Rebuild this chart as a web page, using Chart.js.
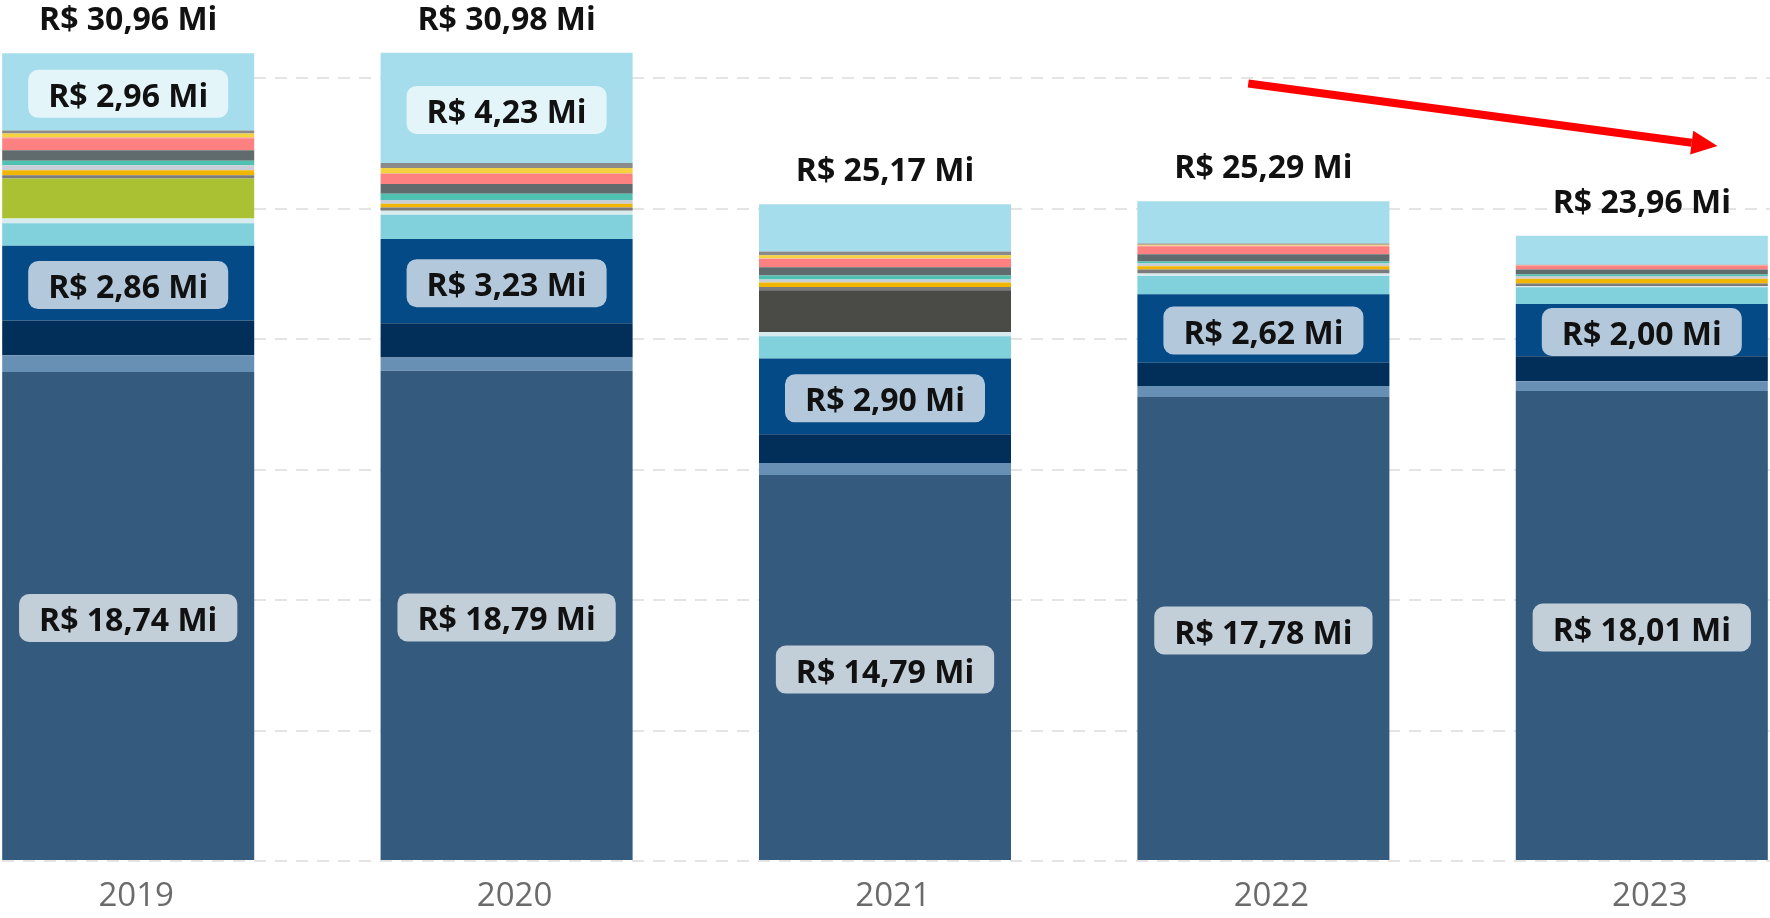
<!DOCTYPE html>
<html>
<head>
<meta charset="utf-8">
<script src="https://cdn.jsdelivr.net/npm/chart.js@4/dist/chart.umd.min.js"></script>
<style>
  html, body { margin:0; padding:0; background:#fff; overflow:hidden; }
  #wrap { position:absolute; left:-61px; top:0; width:1892px; height:918px; }
</style>
</head>
<body>
<div id="wrap"><canvas id="grafico"></canvas></div>
<script>
// Dados (R$ milhões), séries de baixo para cima
const anos = ['2019', '2020', '2021', '2022', '2023'];
const totais = [30.96, 30.98, 25.17, 25.29, 23.96];

const principal   = [18.74, 18.79, 14.79, 17.78, 18.01];
const azulAco     = [0.64, 0.51, 0.46, 0.43, 0.38];
const marinho     = [1.34, 1.31, 1.11, 0.89, 0.96];
const azulEscuro  = [2.86, 3.23, 2.90, 2.62, 2.00];
const ciano       = [0.86, 0.93, 0.85, 0.70, 0.64];
const palido      = [0.19, 0.15, 0.17, 0.10, 0.04];
const verde       = [1.53, 0, 0, 0, 0];
const grafite     = [0, 0, 1.60, 0, 0];
const cinza1      = [0.12, 0.13, 0.12, 0.15, 0.10];
const laranja     = [0.19, 0.14, 0.17, 0.13, 0.19];
const cinzaClaro  = [0.20, 0.14, 0.12, 0.10, 0.10];
const turquesa    = [0.17, 0.24, 0.15, 0.08, 0.06];
const cinzaEscuro = [0.40, 0.38, 0.32, 0.28, 0.19];
const salmao      = [0.46, 0.38, 0.32, 0.30, 0.15];
const pessego     = [0.05, 0.04, 0.02, 0.03, 0];
const amarelo     = [0.13, 0.19, 0.12, 0.03, 0.01];
const cinza2      = [0.12, 0.19, 0.14, 0.05, 0.02];
const azulClaro   = [2.96, 4.23, 1.81, 1.62, 1.11];

// seta de tendência (em coordenadas de dados: índice da categoria, valor)
const setaInicio = [2.96, 29.8];
const setaFim = [4.2, 27.4];

const FONTE = "'Segoe UI', 'Open Sans', sans-serif";
const fmt = v => 'R$ ' + v.toFixed(2).replace('.', ',') + ' Mi';

const series = [
  { data: principal, backgroundColor: '#345b7d', rotulo: true },
  { data: azulAco, backgroundColor: '#6890b5' },
  { data: marinho, backgroundColor: '#012f59' },
  { data: azulEscuro, backgroundColor: '#034a87', rotulo: true },
  { data: ciano, backgroundColor: '#80d1dc' },
  { data: palido, backgroundColor: '#d8ecef' },
  { data: verde, backgroundColor: '#abc134' },
  { data: grafite, backgroundColor: '#4a4b47' },
  { data: cinza1, backgroundColor: '#7b7b7b' },
  { data: laranja, backgroundColor: '#f2b600' },
  { data: cinzaClaro, backgroundColor: '#c9cdd6' },
  { data: turquesa, backgroundColor: '#4fc1b1' },
  { data: cinzaEscuro, backgroundColor: '#5f6b6d' },
  { data: salmao, backgroundColor: '#fd8181' },
  { data: pessego, backgroundColor: '#f6b98f' },
  { data: amarelo, backgroundColor: '#f5d240' },
  { data: cinza2, backgroundColor: '#8a8a8a' },
  { data: azulClaro, backgroundColor: '#a6dded', rotulo: true }
];

const rotulos = {
  id: 'rotulos',
  afterDatasetsDraw(chart) {
    const ctx = chart.ctx, sx = chart.scales.x, sy = chart.scales.y;
    ctx.save();
    ctx.font = 'bold 32px ' + FONTE;
    ctx.textAlign = 'center';
    ctx.textBaseline = 'middle';

    // rótulos internos com caixa
    chart.data.datasets.forEach((ds, di) => {
      if (!ds.rotulo) return;
      chart.getDatasetMeta(di).data.forEach((bar, i) => {
        if (bar.base - bar.y < 50) return;
        const txt = fmt(ds.data[i]);
        const w = ctx.measureText(txt).width + 40;
        const cy = (bar.y + bar.base) / 2 + 2;
        ctx.fillStyle = 'rgba(255,255,255,0.7)';
        ctx.beginPath();
        ctx.roundRect(bar.x - w / 2, cy - 24, w, 48, 10);
        ctx.fill();
        ctx.fillStyle = '#111';
        ctx.fillText(txt, bar.x, cy + 4);
      });
    });

    // totais acima das colunas
    ctx.fillStyle = '#111';
    totais.forEach((t, i) => {
      ctx.fillText(fmt(t), sx.getPixelForValue(i), sy.getPixelForValue(t) - 32);
    });

    // seta vermelha
    const x1 = sx.getPixelForValue(setaInicio[0]), y1 = sy.getPixelForValue(setaInicio[1]);
    const x2 = sx.getPixelForValue(setaFim[0]), y2 = sy.getPixelForValue(setaFim[1]);
    const ang = Math.atan2(y2 - y1, x2 - x1);
    const L = 26, H = 12;
    const bx = x2 - L * Math.cos(ang), by = y2 - L * Math.sin(ang);
    ctx.strokeStyle = '#ff0000';
    ctx.lineWidth = 8;
    ctx.beginPath(); ctx.moveTo(x1, y1); ctx.lineTo(bx, by); ctx.stroke();
    ctx.fillStyle = '#ff0000';
    ctx.beginPath();
    ctx.moveTo(x2, y2);
    ctx.lineTo(bx + H * Math.sin(ang), by - H * Math.cos(ang));
    ctx.lineTo(bx - H * Math.sin(ang), by + H * Math.cos(ang));
    ctx.closePath(); ctx.fill();
    ctx.restore();
  }
};

new Chart(document.getElementById('grafico'), {
  type: 'bar',
  data: { labels: anos, datasets: series.map(s => ({ ...s, borderWidth: 0 })) },
  options: {
    responsive: true,
    maintainAspectRatio: false,
    animation: false,
    datasets: { bar: { barPercentage: 0.666, categoryPercentage: 1 } },
    layout: { padding: 0 },
    plugins: { legend: { display: false }, tooltip: { enabled: false } },
    scales: {
      x: {
        stacked: true,
        grid: { display: false, drawTicks: false },
        border: { display: false },
        ticks: { color: '#6b6b6b', font: { family: FONTE, size: 33 }, padding: 16, labelOffset: 8 },
        afterFit: s => { s.height = 57; }
      },
      y: {
        stacked: true,
        min: 0, max: 33,
        grid: { color: '#e4e4e4', lineWidth: 2, drawTicks: false },
        border: { display: false, dash: [12, 9] },
        ticks: { display: false, stepSize: 5, includeBounds: false },
        afterFit: s => { s.width = 0; }
      }
    }
  },
  plugins: [rotulos]
});
</script>
</body>
</html>
